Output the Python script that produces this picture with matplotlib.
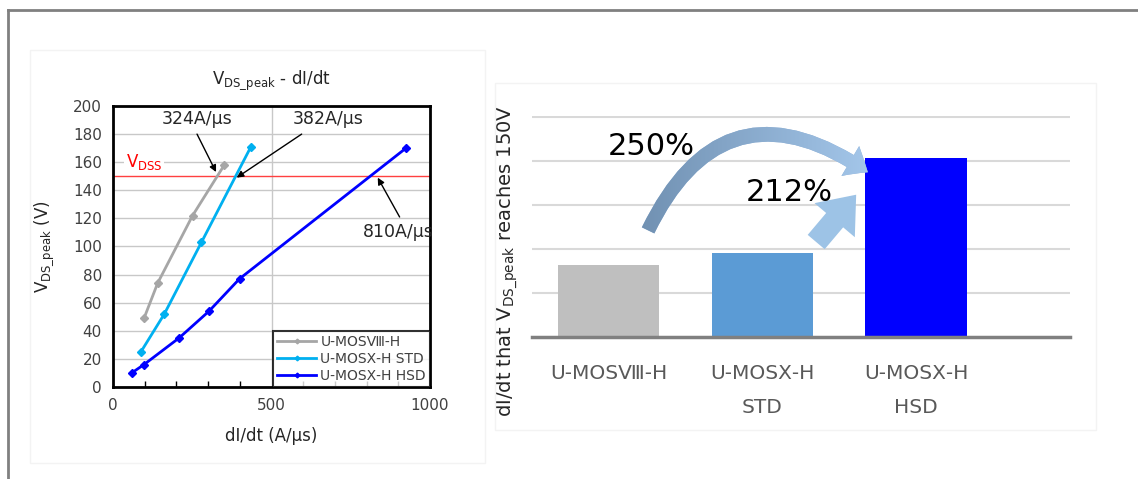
import numpy as np
import matplotlib
matplotlib.use("Agg")
import matplotlib.pyplot as plt
from matplotlib.patches import FancyArrowPatch, Rectangle
from matplotlib.lines import Line2D
from matplotlib.colors import LinearSegmentedColormap
from matplotlib.ticker import MultipleLocator

plt.rcParams['font.family'] = ['DejaVu Sans', 'Noto Sans CJK JP']
plt.rcParams['mathtext.fontset'] = 'dejavusans'

# left chart: V_DS_peak vs dI/dt
x_u8 = [98, 141, 251, 351]
y_u8 = [49, 74, 122, 158]
x_std = [88, 162, 279, 435]
y_std = [25, 52, 103, 171]
x_hsd = [59, 98, 209, 303, 399, 924]
y_hsd = [10, 16, 35, 54, 77, 170]
names = ['U-MOSⅧ-H', 'U-MOSⅩ-H STD', 'U-MOSⅩ-H HSD']
vdss = 150

# right chart: dI/dt where V_DS_peak reaches 150V
bar_labels = ['U-MOSⅧ-H', 'U-MOSⅩ-H\nSTD', 'U-MOSⅩ-H\nHSD']
bar_vals = [324, 382, 810]
bar_cols = ['#bfbfbf', '#5b9bd5', '#0000ff']

fig = plt.figure(figsize=(11.38, 4.79), dpi=100)

# outer frame + faint panel boxes
fig.add_artist(Line2D([0.007, 0.999], [0.979, 0.979], color='#808080', lw=2))
fig.add_artist(Line2D([0.007, 0.007], [0.0, 0.979], color='#808080', lw=2))
fig.add_artist(Rectangle((0.026, 0.033), 0.40, 0.862, transform=fig.transFigure,
                         fill=False, ec='#f3f3f3', lw=1))
fig.add_artist(Rectangle((0.435, 0.102), 0.528, 0.725, transform=fig.transFigure,
                         fill=False, ec='#f3f3f3', lw=1))

# ---- left
ax = fig.add_axes([0.0993, 0.1921, 0.2786, 0.5866])
ax.plot(x_u8, y_u8, color='#a6a6a6', lw=2, marker='D', ms=4, label=names[0])
ax.plot(x_std, y_std, color='#00b0f0', lw=2, marker='D', ms=4, label=names[1])
ax.plot(x_hsd, y_hsd, color='#0000ff', lw=2, marker='D', ms=4, label=names[2])
ax.axhline(vdss, color='#ff4040', lw=1, zorder=1.5)
ax.set_xlim(0, 1000)
ax.set_ylim(0, 200)
ax.xaxis.set_major_locator(MultipleLocator(500))
ax.xaxis.set_minor_locator(MultipleLocator(100))
ax.yaxis.set_major_locator(MultipleLocator(20))
ax.grid(True, color='#c8c8c8', lw=1)
ax.set_axisbelow(True)
ax.tick_params(axis='both', which='major', length=0, labelsize=11, labelcolor='#404040', pad=8)
ax.tick_params(axis='x', which='minor', direction='in', length=4, width=1)
for s in ax.spines.values():
    s.set_linewidth(2)
    s.set_color('black')
ax.set_title(r'V$_{\mathregular{DS\_peak}}$ - dI/dt', fontsize=12, color='#262626', pad=16)
ax.set_xlabel('dI/dt (A/μs)', fontsize=12, color='#262626', labelpad=10)
ax.set_ylabel(r'V$_{\mathregular{DS\_peak}}$ (V)', fontsize=12, color='#262626', labelpad=12)

ax.text(40, 160, r'V$_{\mathregular{DSS}}$', color='#ff0000', fontsize=12, va='center',
        bbox=dict(fc='white', ec='none', pad=1))
ax.text(265, 191, '324A/μs', fontsize=12.5, color='#262626', ha='center', va='center')
ax.text(678, 191, '382A/μs', fontsize=12.5, color='#262626', ha='center', va='center')
ax.text(900, 110, '810A/μs', fontsize=12.5, color='#262626', ha='center', va='center')
ap = dict(arrowstyle='-|>', color='black', lw=1, mutation_scale=10, shrinkA=0, shrinkB=0)
ax.annotate('', xy=(325, 153), xytext=(265, 180), arrowprops=ap)
ax.annotate('', xy=(390, 149), xytext=(595, 180), arrowprops=ap)
ax.annotate('', xy=(835, 149), xytext=(904, 121), arrowprops=ap)

leg = ax.legend(loc='lower right', bbox_to_anchor=(1.0, 0.0), borderaxespad=0,
                fontsize=10, frameon=True, fancybox=False, handlelength=2.8,
                handletextpad=0.3, labelspacing=0.2, borderpad=0.3, markerscale=0.6)
leg.get_frame().set_edgecolor('black')
leg.get_frame().set_linewidth(1.5)
for t in leg.get_texts():
    t.set_color('#404040')

# ---- right
ax2 = fig.add_axes([0.4672, 0.2971, 0.4730, 0.4614])
xpos = np.arange(len(bar_vals))
ax2.bar(xpos, bar_vals, width=0.66, color=bar_cols, zorder=2)
ax2.set_xlim(-0.5, 3.0)
ax2.set_ylim(0, 1004)
ax2.set_yticks([200, 400, 600, 800, 1000])
ax2.yaxis.grid(True, color='#d9d9d9', lw=1.5)
ax2.set_axisbelow(True)
for k in ['top', 'right', 'left']:
    ax2.spines[k].set_visible(False)
ax2.spines['bottom'].set_color('#808080')
ax2.spines['bottom'].set_linewidth(2.5)
ax2.set_xticks(xpos)
ax2.set_xticklabels(bar_labels, fontsize=14.5, color='#595959', linespacing=2.0, va='top')
ax2.tick_params(axis='x', length=0, pad=20)
ax2.tick_params(axis='y', length=0, labelleft=False)
ax2.set_ylabel(r'dI/dt that V$_{\mathregular{DS\_peak}}$ reaches 150V', fontsize=14, color='#262626')
ax2.yaxis.set_label_coords(-0.022, 0.345)

# curved arrow with gradient fill
curve = FancyArrowPatch((0.257, 483), (1.686, 747), connectionstyle='arc3,rad=-0.58',
                        arrowstyle='simple,head_length=15,head_width=25,tail_width=10',
                        shrinkA=0, shrinkB=0, fc='#8fb0d6', ec='none', zorder=3)
ax2.add_patch(curve)
cmap = LinearSegmentedColormap.from_list('g', ['#6f8fb0', '#a9ccf0'])
grad = np.linspace(0, 1, 256).reshape(1, -1)
im = ax2.imshow(grad, extent=[0.15, 1.85, 380, 1000], aspect='auto', cmap=cmap, zorder=3.5)
im.set_clip_path(curve)
ax2.set_xlim(-0.5, 3.0)
ax2.set_ylim(0, 1004)

straight = FancyArrowPatch((1.35, 430), (1.61, 645),
                           arrowstyle='simple,head_length=24,head_width=38,tail_width=16',
                           shrinkA=0, shrinkB=0, fc='#9dc3e6', ec='none', zorder=3)
ax2.add_patch(straight)

ax2.text(0.28, 865, '250%', fontsize=22, color='black', ha='center', va='center', zorder=4)
ax2.text(1.177, 655, '212%', fontsize=22, color='black', ha='center', va='center', zorder=4)

fig.savefig('out.png', dpi=100)
